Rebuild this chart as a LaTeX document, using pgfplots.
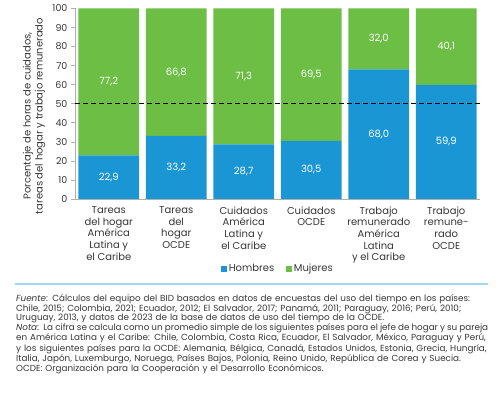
\documentclass[border=0pt]{standalone}
\usepackage{fontspec}
\setmainfont{Poppins}
\usepackage{pgfplots}
\usepackage{pgfplotstable}
\pgfplotsset{compat=1.18}
\definecolor{hom}{RGB}{27,150,212}
\definecolor{muj}{RGB}{108,190,69}
\definecolor{axisgray}{RGB}{175,175,175}
\definecolor{txt}{RGB}{55,55,55}
\definecolor{rulec}{RGB}{160,216,240}

\pgfplotstableread{
x hom muj
0 22.9 77.2
1 33.2 66.8
2 28.7 71.3
3 30.5 69.5
4 68.0 32.0
5 59.9 40.1
}\datatab

\pgfplotstableread{
x y lab
0 11.45 22,9
1 16.6 33,2
2 14.35 28,7
3 15.25 30,5
4 34.0 68,0
5 29.95 59,9
0 61.5 77,2
1 66.6 66,8
2 64.35 71,3
3 65.25 69,5
4 84.0 32,0
5 79.95 40,1
}\labtab

\begin{document}
\begin{tikzpicture}
\begin{axis}[
  at={(0,0)}, anchor=south west,
  scale only axis, width=405pt, height=190.5pt,
  xmin=-0.5, xmax=5.5, ymin=0, ymax=100,
  ybar stacked, bar width=0.9,
  axis x line*=bottom, axis y line*=left,
  axis line style={axisgray, line width=0.8pt},
  tick align=outside, major tick length=4pt,
  tick style={axisgray, line width=0.6pt},
  ytick={0,10,...,100},
  /pgf/number format/assume math mode=true,
  yticklabel style={font=\fontsize{9.5}{11}\selectfont, text=txt},
  xtick={0,...,5},
  major x tick style={draw=none},
  extra x ticks={-0.5,0.5,1.5,2.5,3.5,4.5,5.5},
  extra x tick labels={},
  extra x tick style={major x tick style={axisgray, line width=0.6pt}, major tick length=4pt},
  xticklabels={{Tareas\\del hogar\\América\\Latina y\\el Caribe},
               {Tareas\\del\\hogar\\OCDE},
               {Cuidados\\América\\Latina y\\el Caribe},
               {Cuidados\\OCDE},
               {Trabajo\\remunerado\\América\\Latina\\y el Caribe},
               {Trabajo\\remune-\\rado\\OCDE}},
  xticklabel style={font=\fontsize{10}{11.7}\selectfont, align=center, text=txt, anchor=north},
  ylabel={Porcentaje de horas de cuidados,\\tareas del hogar y trabajo remunerado},
  ylabel style={align=center, font=\fontsize{10}{12}\selectfont, text=txt,
                at={(axis description cs:-0.101,0.436)}, anchor=center},
  legend style={at={(axis description cs:0.5,-0.367)}, anchor=center,
                legend columns=2, draw=none, fill=none,
                font=\fontsize{10}{12}\selectfont, text=txt,
                /tikz/every even column/.append style={column sep=10pt},
                nodes={inner sep=1.5pt}},
  legend image code/.code={\fill[#1] (0pt,-3.3pt) rectangle (6.6pt,3.3pt);},
]
\addplot[fill=hom, draw=none] table[x=x, y=hom] {\datatab};
\addlegendentry{Hombres}
\addplot[fill=muj, draw=none] table[x=x, y=muj] {\datatab};
\addlegendentry{Mujeres}
\end{axis}
\begin{axis}[
  at={(0,0)}, anchor=south west,
  scale only axis, width=405pt, height=190.5pt,
  xmin=-0.5, xmax=5.5, ymin=0, ymax=100,
  hide axis, clip=false,
]
\addplot[draw=none, mark=none, nodes near coords, point meta=explicit symbolic,
  every node near coord/.style={anchor=center, text=white, font=\fontsize{10}{12}\selectfont}]
  table[x=x, y=y, meta=lab] {\labtab};
\addplot[black, line width=1.3pt, dash pattern=on 5pt off 3pt, mark=none]
  coordinates {(-0.5,50) (5.5,50)};
\end{axis}
\draw[rulec, line width=2pt] (-60pt,-85pt) -- (413pt,-85pt);
\node[anchor=north west, inner sep=0pt, text=txt, text width=472pt, align=left,
      font=\fontsize{8.8}{9.1}\selectfont] at (-59pt,-95pt) {%
\makebox[472pt][s]{\textit{Fuente}: Cálculos del equipo del BID basados en datos de encuestas del uso del tiempo en los países:}\\
\makebox[472pt][s]{Chile, 2015; Colombia, 2021; Ecuador, 2012; El Salvador, 2017; Panamá, 2011; Paraguay, 2016; Perú, 2010;}\\
Uruguay, 2013, y datos de 2023 de la base de datos de uso del tiempo de la OCDE.\\
\makebox[472pt][s]{\spaceskip=1.2pt plus 10pt\relax\textit{Nota}: La cifra se calcula como un promedio simple de los siguientes países para el jefe de hogar y su pareja}\\
\makebox[472pt][s]{en América Latina y el Caribe: Chile, Colombia, Costa Rica, Ecuador, El Salvador, México, Paraguay y Perú,}\\
\makebox[472pt][s]{y los siguientes países para la OCDE: Alemania, Bélgica, Canadá, Estados Unidos, Estonia, Grecia, Hungría,}\\
Italia, Japón, Luxemburgo, Noruega, Países Bajos, Polonia, Reino Unido, República de Corea y Suecia.\\
OCDE: Organización para la Cooperación y el Desarrollo Económicos.};
\pgfresetboundingbox
\path (-75pt,-194pt) rectangle (429pt,199pt);
\end{tikzpicture}
\end{document}
